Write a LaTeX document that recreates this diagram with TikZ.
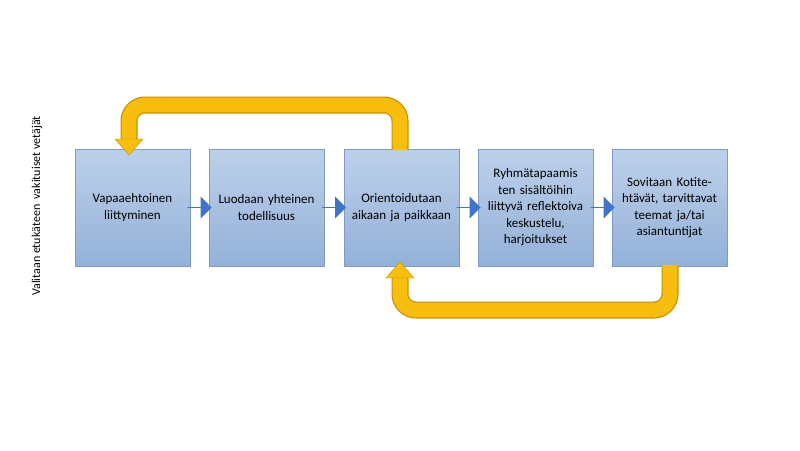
\documentclass[tikz,border=0pt]{standalone}
\usepackage{fontspec}
\setmainfont{Carlito}
\usetikzlibrary{shapes.arrows,calc}
\definecolor{boxtop}{HTML}{BDD0EA}
\definecolor{boxbot}{HTML}{93B1D8}
\definecolor{boxline}{HTML}{7F9BC0}
\definecolor{ylw}{HTML}{F7BE10}
\definecolor{ylwd}{HTML}{C88E00}
\definecolor{arrblue}{HTML}{3F74C8}
\tikzset{
  stepbox/.style={draw=boxline,top color=boxtop,bottom color=boxbot,minimum width=115pt,minimum height=117pt,align=center,text width=105pt,font=\fontsize{13}{16.5}\selectfont,inner sep=0pt},
  bluearr/.style={single arrow,draw=none,fill=arrblue,minimum height=24pt,minimum width=22pt,single arrow head extend=5pt,inner sep=0pt,shape border rotate=0},
  bandout/.style={draw=ylwd,line width=17pt,rounded corners=16pt},
  bandin/.style={draw=ylw,line width=14.6pt,rounded corners=16pt},
}
\begin{document}
\begin{tikzpicture}[x=1pt,y=-1pt]
\useasboundingbox (0,0) rectangle (800,450);
\node[rotate=90,font=\fontsize{12}{14}\selectfont] (lab) at (37,206) {Valitaan etukäteen\ \ vakituiset vetäjät};
\node[stepbox] (b1) at (132.5,207.5) {Vapaaehtoinen liittyminen};
\node[stepbox] (b2) at (266.5,207.5) {Luodaan yhteinen todellisuus};
\node[stepbox] (b3) at (401.5,207.5) {Orientoidutaan aikaan ja paikkaan};
\node[stepbox] (b4) at (535.5,207.5) {Ryhmätapaamis ten sisältöihin liittyvä reflektoiva keskustelu, harjoitukset};
\node[stepbox] (b5) at (669.5,207.5) {Sovitaan Kotitehtävät, tarvittavat teemat ja/tai asiantuntijat};
\foreach \a/\b in {b1/b2,b2/b3,b3/b4,b4/b5}
  \node[bluearr] at ($(\a.east)!0.5!(\b.west)$) {};
% top loop
\coordinate (t0) at (400,149);
\coordinate (t1) at (129,140);
\draw[bandout] (t0) -- (400,105) -- (129,105) -- (t1);
\draw[bandin] ([yshift=-1]t0) -- (400,105) -- (129,105) -- ([yshift=1]t1);
\draw[ylwd,fill=ylw,line join=round] (115,139) -- (143,139) -- (129,155) -- cycle;
% bottom loop
\coordinate (u0) at (670,266);
\coordinate (u1) at (400,277);
\draw[bandout] (u0) -- (670,310) -- (400,310) -- (u1);
\draw[bandin] ([yshift=1]u0) -- (670,310) -- (400,310) -- ([yshift=-1]u1);
\draw[ylwd,fill=ylw,line join=round] (386,278) -- (414,278) -- (400,262) -- cycle;
\end{tikzpicture}
\end{document}
